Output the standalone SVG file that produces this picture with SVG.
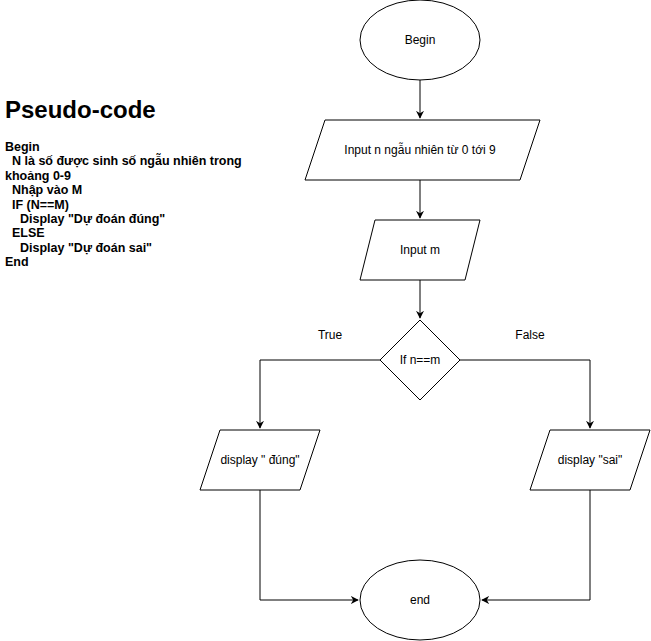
<svg xmlns="http://www.w3.org/2000/svg" width="651" height="641" viewBox="0 0 651 641">
<style>
.shape{fill:#fff;stroke:#000;stroke-width:1}
.lbl{font-family:"Liberation Sans",Arial,sans-serif;font-size:12px;fill:#000;text-anchor:middle}
.code{font-family:"Liberation Sans",Arial,sans-serif;font-size:12.5px;font-weight:bold;fill:#000}
.edge{fill:none;stroke:#000;stroke-width:1}
</style>
<defs>
<marker id="arr" viewBox="0 0 10 10" refX="9" refY="5" markerWidth="8" markerHeight="8" markerUnits="userSpaceOnUse" orient="auto">
<path d="M0,0 L10,5 L0,10 L3,5 Z" fill="#000"/>
</marker>
</defs>
<rect width="651" height="641" fill="#fff"/>
<g id="pseudocode">
<text x="5" y="118" font-family="Liberation Sans,Arial,sans-serif" font-size="24" font-weight="bold">Pseudo-code</text>
<text class="code" x="5" y="151">Begin</text>
<text class="code" x="12" y="165.4">N là số được sinh số ngẫu nhiên trong</text>
<text class="code" x="5" y="179.8">khoảng 0-9</text>
<text class="code" x="12" y="194.2">Nhập vào M</text>
<text class="code" x="12" y="208.6">IF (N==M)</text>
<text class="code" x="20" y="223">Display "Dự đoán đúng"</text>
<text class="code" x="12" y="237.4">ELSE</text>
<text class="code" x="20" y="251.8">Display "Dự đoán sai"</text>
<text class="code" x="5" y="266.2">End</text>
</g>
<g id="connectors">
<path class="edge" d="M420,80 V118" marker-end="url(#arr)"/>
<path class="edge" d="M420,180 V218" marker-end="url(#arr)"/>
<path class="edge" d="M420,280 V318" marker-end="url(#arr)"/>
<path class="edge" d="M380,360 H260 V428" marker-end="url(#arr)"/>
<path class="edge" d="M460,360 H590 V428" marker-end="url(#arr)"/>
<path class="edge" d="M260,490 V600 H358" marker-end="url(#arr)"/>
<path class="edge" d="M590,490 V600 H482" marker-end="url(#arr)"/>
<text class="lbl" x="330" y="339">True</text>
<text class="lbl" x="530" y="339">False</text>
</g>
<g id="begin">
<ellipse class="shape" cx="420" cy="40" rx="60" ry="40"/>
<text class="lbl" x="420" y="44">Begin</text>
</g>
<g id="input-n">
<polygon class="shape" points="325,120 540,120 520,180 305,180"/>
<text class="lbl" x="420" y="154">Input n ngẫu nhiên từ 0 tới 9</text>
</g>
<g id="input-m">
<polygon class="shape" points="375,220 480,220 465,280 360,280"/>
<text class="lbl" x="420" y="254">Input m</text>
</g>
<g id="decision">
<polygon class="shape" points="420,320 460,360 420,400 380,360"/>
<text class="lbl" x="420" y="364">If n==m</text>
</g>
<g id="display-dung">
<polygon class="shape" points="220,430 320,430 300,490 200,490"/>
<text class="lbl" x="260" y="464">display " đúng"</text>
</g>
<g id="display-sai">
<polygon class="shape" points="550,430 650,430 630,490 530,490"/>
<text class="lbl" x="590" y="464">display "sai"</text>
</g>
<g id="end">
<ellipse class="shape" cx="420" cy="600" rx="60" ry="40"/>
<text class="lbl" x="420" y="604">end</text>
</g>
</svg>
